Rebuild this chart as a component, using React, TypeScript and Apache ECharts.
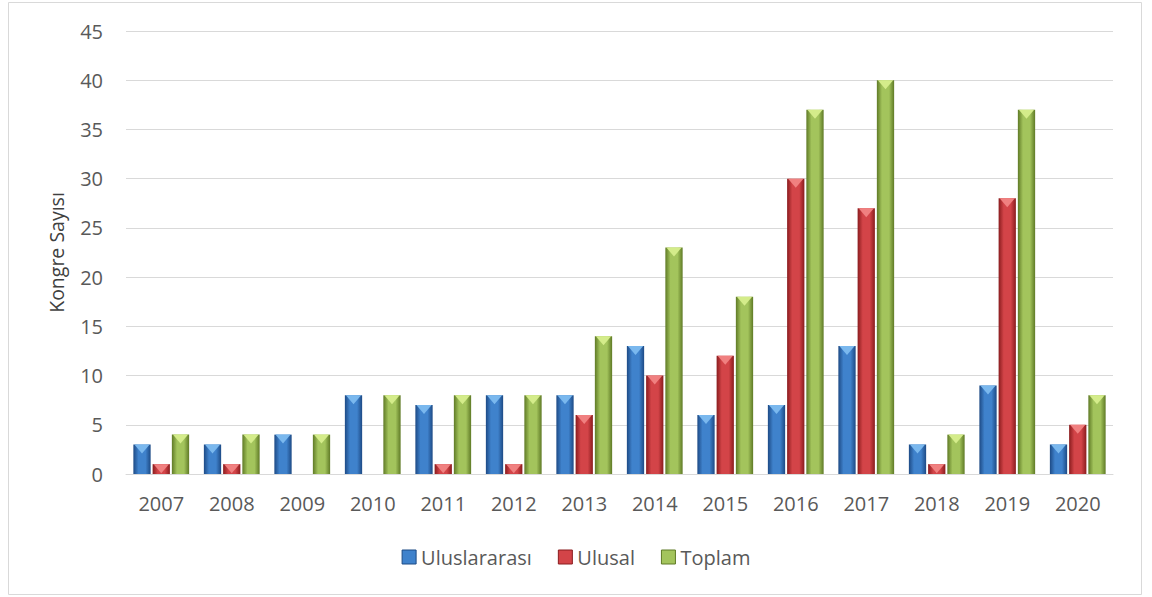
import React, { useEffect, useRef } from "react";
import * as echarts from "echarts";

const years = ["2007", "2008", "2009", "2010", "2011", "2012", "2013", "2014", "2015", "2016", "2017", "2018", "2019", "2020"];
const uluslararasi = [3, 3, 4, 8, 7, 8, 8, 13, 6, 7, 13, 3, 9, 3];
const ulusal = [1, 1, 0, 0, 1, 1, 6, 10, 12, 30, 27, 1, 28, 5];
const toplam = [4, 4, 4, 8, 8, 8, 14, 23, 18, 37, 40, 4, 37, 8];
const seriesNames = ["Uluslararası", "Ulusal", "Toplam"];
const yTicks = [0, 5, 10, 15, 20, 25, 30, 35, 40, 45];

const palettes = [
  { edge: "#1d4a85", mid: "#3f82cc", top: "#7ab8ee" },
  { edge: "#8a1c1e", mid: "#d34448", top: "#f08080" },
  { edge: "#5f7a26", mid: "#a3c45c", top: "#d4ec8a" },
];

const FONT = "'Open Sans', 'Noto Sans', sans-serif";

function makeRender(si: number) {
  return (params: any, api: any) => {
    const idx = api.value(0);
    const val = api.value(1);
    if (!val) return null;
    const base = api.coord([idx, 0]);
    const topPt = api.coord([idx, val]);
    const band = api.size([1, 0])[0];
    const bw = band * 0.245;
    const gap = band * 0.028;
    const total = bw * 3 + gap * 2;
    const x = base[0] - total / 2 + si * (bw + gap);
    const y = topPt[1];
    const h = base[1] - topPt[1];
    const p = palettes[si];
    const triH = Math.min(9, h);
    return {
      type: "group",
      children: [
        {
          type: "rect",
          shape: { x, y, width: bw, height: h },
          style: {
            fill: new echarts.graphic.LinearGradient(0, 0, 1, 0, [
              { offset: 0, color: p.edge },
              { offset: 0.3, color: p.mid },
              { offset: 0.7, color: p.mid },
              { offset: 1, color: p.edge },
            ]),
          },
        },
        {
          type: "polygon",
          shape: {
            points: [
              [x + 1, y],
              [x + bw - 1, y],
              [x + bw / 2, y + triH],
            ],
          },
          style: { fill: p.top },
        },
      ],
    };
  };
}

const dataSets = [uluslararasi, ulusal, toplam];

export default function App() {
  const ref = useRef<HTMLDivElement>(null);
  useEffect(() => {
    document.body.style.margin = "0";
    const chart = echarts.init(ref.current!, null, { renderer: "svg" });
    chart.setOption({
      animation: false,
      backgroundColor: "#ffffff",
      textStyle: { fontFamily: FONT },
      graphic: [
        {
          type: "rect",
          shape: { x: 8.5, y: 2.5, width: 1133, height: 592 },
          style: { fill: "none", stroke: "#d9d9d9", lineWidth: 1 },
          silent: true,
        },
      ],
      grid: { left: 126, right: 39, top: 31, bottom: 123 },
      legend: {
        top: 542,
        left: "center",
        itemWidth: 14,
        itemHeight: 14,
        itemGap: 26,
        textStyle: { fontSize: 20, color: "#595959", fontFamily: FONT },
        data: seriesNames.map((n, i) => ({
          name: n,
          icon: "rect",
          itemStyle: { color: palettes[i].mid, borderColor: palettes[i].edge, borderWidth: 1 },
        })),
      },
      xAxis: {
        type: "category",
        data: years,
        axisLine: { lineStyle: { color: "#d9d9d9" } },
        axisTick: { show: false },
        axisLabel: { fontSize: 20, color: "#595959", margin: 19, fontFamily: FONT },
      },
      yAxis: {
        type: "value",
        min: yTicks[0],
        max: yTicks[yTicks.length - 1],
        interval: 5,
        name: "Kongre Sayısı",
        nameLocation: "middle",
        nameGap: 60,
        nameRotate: 90,
        nameTextStyle: { fontSize: 19.5, color: "#404040", fontFamily: FONT },
        axisLine: { show: false },
        axisTick: { show: false },
        splitLine: { lineStyle: { color: "#d9d9d9" } },
        axisLabel: { fontSize: 20, color: "#595959", margin: 23, fontFamily: FONT },
      },
      series: dataSets.map((d, si) => ({
        name: seriesNames[si],
        type: "custom",
        renderItem: makeRender(si),
        encode: { x: 0, y: 1 },
        itemStyle: { color: palettes[si].mid },
        data: d.map((v, i) => [i, v]),
      })),
    });
    return () => chart.dispose();
  }, []);
  return <div ref={ref} style={{ width: 1152, height: 597 }} />;
}
